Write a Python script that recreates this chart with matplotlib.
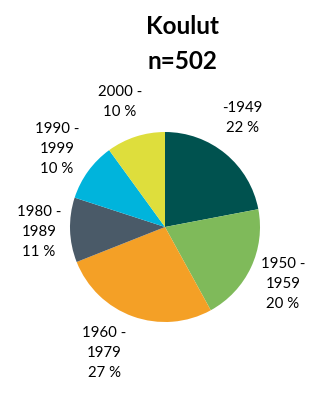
import matplotlib
matplotlib.use("Agg")
import matplotlib.pyplot as plt

plt.rcParams['font.family'] = ['Lato', 'DejaVu Sans']

categories = ["-1949", "1950 -\n1959", "1960 -\n1979", "1980 -\n1989", "1990 -\n1999", "2000 -"]
values = [22, 20, 27, 11, 10, 10]
colors = ["#00524F", "#7FBA5A", "#F4A026", "#4A5A68", "#00B4DC", "#DEDE3C"]
title = "Koulut\nn=502"

W, H = 327, 402
fig = plt.figure(figsize=(W / 100, H / 100), dpi=100)
cx, cy, r = 165, 228, 95
ax = fig.add_axes([(cx - r) / W, (H - cy - r) / H, 2 * r / W, 2 * r / H])
ax.pie(values, colors=colors, startangle=90, counterclock=False, radius=1,
       wedgeprops=dict(linewidth=0))
ax.set_xlim(-1, 1)
ax.set_ylim(-1, 1)
ax.set_aspect('auto')
ax.axis('off')

# label centres in pixel layout
label_px = [(242, 118), (283, 284), (104, 353), (39, 232), (57, 149), (120, 102)]
for cat, v, (px, py) in zip(categories, values, label_px):
    ax.text((px - cx) / r, (cy - py) / r, f"{cat}\n{v} %", ha='center', va='center',
            fontsize=10.8, linespacing=1.55, clip_on=False, color='black')

fig.text(182 / W, 1 - 44 / H, title, ha='center', va='center', fontsize=17.5,
         fontweight='bold', linespacing=1.6)

fig.savefig("out.png", dpi=100, facecolor='white')
